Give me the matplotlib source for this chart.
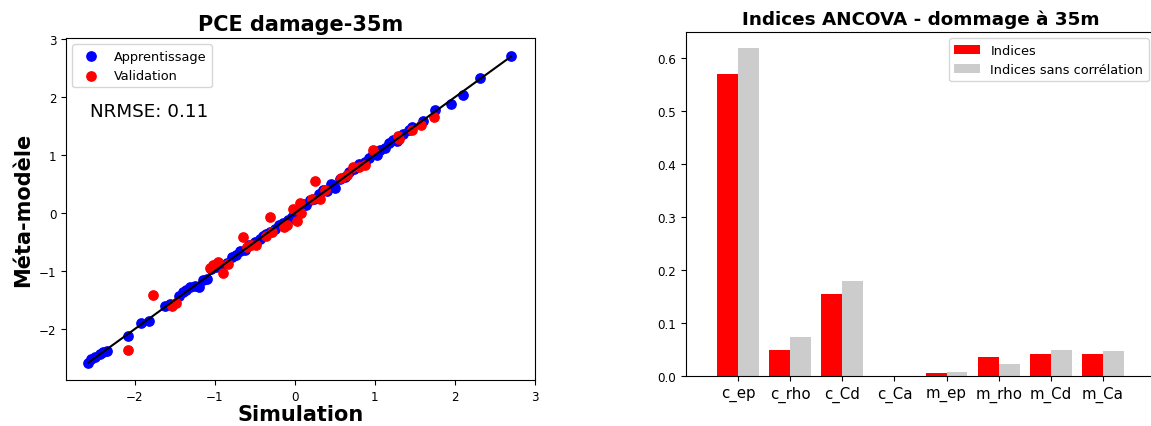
import numpy as np
import matplotlib.pyplot as plt

# PCE meta-model vs simulation, training points
app_sim = [-2.58, -2.55, -2.50, -2.44, -2.40, -2.35, -2.09, -1.92, -1.82, -1.62, -1.56, -1.45,
           -1.40, -1.36, -1.31, -1.25, -1.20, -1.15, -1.10, -1.05, -0.98, -0.92, -0.85, -0.79,
           -0.74, -0.68, -0.62, -0.57, -0.50, -0.44, -0.40, -0.36, -0.31, -0.25, -0.20, -0.15,
           -0.09, -0.04, 0.02, 0.07, 0.10, 0.14, 0.19, 0.24, 0.30, 0.35, 0.40, 0.45, 0.50,
           0.56, 0.62, 0.68, 0.74, 0.80, 0.87, 0.93, 0.98, 1.02, 1.06, 1.12, 1.18, 1.22, 1.28,
           1.35, 1.42, 1.46, 1.60, 1.75, 1.95, 2.10, 2.31, 2.70]
app_meta = [-2.58, -2.52, -2.49, -2.43, -2.40, -2.38, -2.12, -1.90, -1.86, -1.60, -1.57, -1.43,
            -1.36, -1.33, -1.28, -1.25, -1.27, -1.16, -1.13, -0.97, -0.93, -0.90, -0.87, -0.75,
            -0.73, -0.65, -0.63, -0.55, -0.50, -0.45, -0.39, -0.36, -0.33, -0.28, -0.20, -0.17,
            -0.12, -0.06, -0.02, 0.08, 0.15, 0.14, 0.22, 0.25, 0.33, 0.40, 0.38, 0.50, 0.43,
            0.58, 0.62, 0.70, 0.76, 0.85, 0.88, 0.95, 1.02, 1.00, 1.08, 1.13, 1.20, 1.26, 1.24,
            1.36, 1.43, 1.48, 1.59, 1.78, 1.89, 2.03, 2.33, 2.71]

# validation points
val_sim = [-2.09, -1.77, -1.54, -1.49, -1.06, -1.02, -0.96, -0.90, -0.84, -0.65, -0.60, -0.55,
           -0.48, -0.36, -0.31, -0.29, -0.13, -0.10, -0.02, 0.03, 0.08, 0.06, 0.21, 0.25, 0.31,
           0.38, 0.58, 0.65, 0.73, 0.80, 0.88, 0.98, 1.29, 1.30, 1.46, 1.58, 1.74]
val_meta = [-2.37, -1.41, -1.61, -1.55, -0.94, -0.90, -0.84, -1.03, -0.88, -0.41, -0.58, -0.55,
            -0.55, -0.40, -0.06, -0.32, -0.24, -0.20, 0.07, -0.13, 0.00, 0.17, 0.25, 0.55, 0.25,
            0.40, 0.60, 0.65, 0.80, 0.80, 0.83, 1.09, 1.33, 1.28, 1.43, 1.52, 1.65]
nrmse = 0.11

# ANCOVA indices
params = ['c_ep', 'c_rho', 'c_Cd', 'c_Ca', 'm_ep', 'm_rho', 'm_Cd', 'm_Ca']
indices = [0.570, 0.049, 0.154, 0.0, 0.0056, 0.036, 0.041, 0.041]
indices_uncorr = [0.618, 0.073, 0.179, 0.0, 0.0075, 0.022, 0.049, 0.047]

fig = plt.figure(figsize=(11.51, 4.27), dpi=100)

## left: PCE validation
ax1 = fig.add_axes([66/1151, 46/427, 469/1151, 342/427])
ax1.scatter(app_sim, app_meta, s=45, c='blue', label='Apprentissage')
ax1.scatter(val_sim, val_meta, s=45, c='red', label='Validation')
lims = [min(app_sim), max(app_sim)]
ax1.plot(lims, lims, 'k-', lw=1.5)
ax1.text(-2.56, 1.76, f'NRMSE: {nrmse}', fontsize=13.2, va='center')
ax1.set_xlim(-2.86, 3.0)
ax1.set_ylim(-2.88, 3.02)
ax1.set_xticks([-2, -1, 0, 1, 2, 3])
ax1.tick_params(labelsize=8.6)
ax1.set_title('PCE damage-35m', fontsize=15, fontweight='bold')
ax1.set_xlabel('Simulation', fontsize=15, fontweight='bold', labelpad=1)
ax1.set_ylabel('Méta-modèle', fontsize=15, fontweight='bold')
ax1.legend(loc='upper left', fontsize=9.3)

## right: ANCOVA bars
ax2 = fig.add_axes([686/1151, 50/427, 469/1151, 344/427])
x = np.arange(len(params))
ax2.bar(x - 0.2, indices, width=0.4, color='red', label='Indices')
ax2.bar(x + 0.2, indices_uncorr, width=0.4, color='#cccccc', label='Indices sans corrélation')
ax2.set_xticks(x)
ax2.set_xticklabels(params, fontsize=10.8)
ax2.tick_params(axis='y', labelsize=8.6)
ax2.set_xlim(-1, 8)
ax2.set_title('Indices ANCOVA - dommage à 35m', fontsize=13.2, fontweight='bold')
ax2.legend(loc='upper right', fontsize=9.3)

fig.savefig('out.png', dpi=100)
